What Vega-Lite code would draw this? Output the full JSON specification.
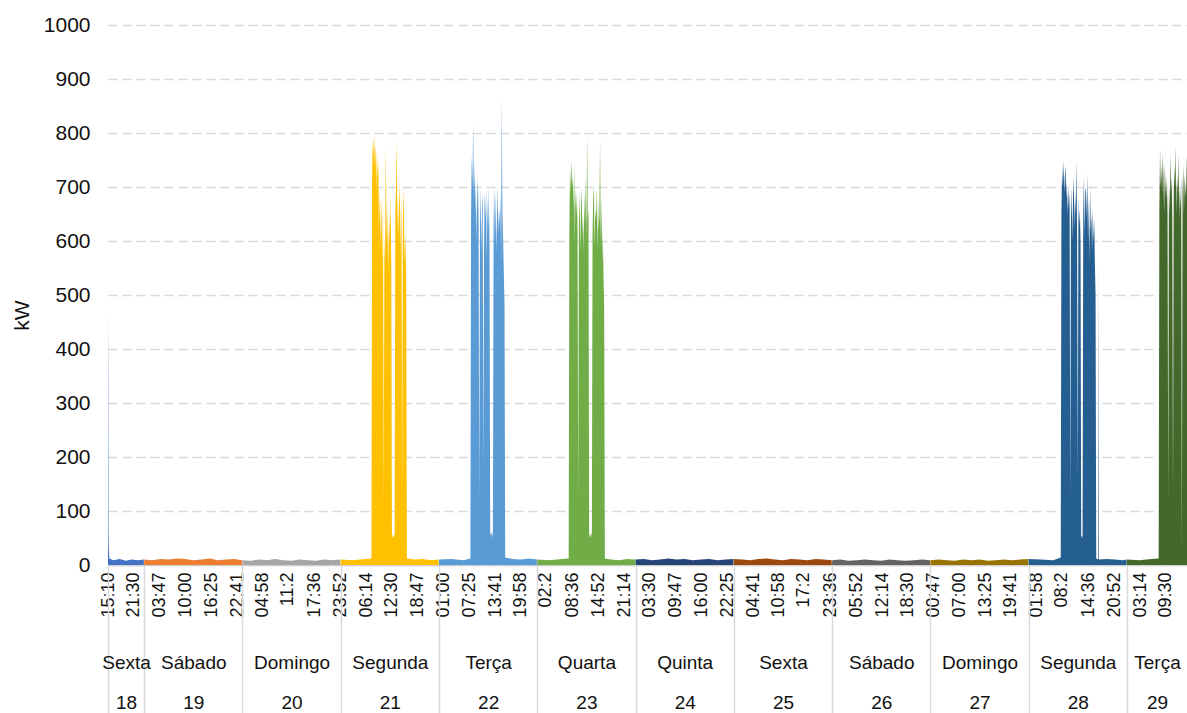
{
  "$schema": "https://vega.github.io/schema/vega-lite/v6.json",
  "width": 1079,
  "height": 540,
  "autosize": "none",
  "padding": {"left": 108, "top": 25, "right": 0, "bottom": 148},
  "background": "#ffffff",
  "config": {
    "view": {"stroke": null},
    "font": "Liberation Sans",
    "axis": {"labelFont": "Liberation Sans", "titleFont": "Liberation Sans", "labelColor": "#111111", "titleColor": "#111111", "titleFontWeight": "normal"}
  },
  "resolve": {"axis": {"x": "independent"}},
  "layer": [
    {
      "data": {"values": [
        {"t":"2019-01-18T15:10","kw":470},{"t":"2019-01-18T15:14","kw":340},{"t":"2019-01-18T15:18","kw":60},{"t":"2019-01-18T15:22","kw":30},{"t":"2019-01-18T15:30","kw":12},{"t":"2019-01-18T16:30","kw":9},{"t":"2019-01-18T18:00","kw":11},{"t":"2019-01-18T19:30","kw":8},{"t":"2019-01-18T21:00","kw":10},{"t":"2019-01-18T22:30","kw":9},{"t":"2019-01-18T23:55","kw":10},
        {"t":"2019-01-19T00:00","kw":10},{"t":"2019-01-19T02:00","kw":9},{"t":"2019-01-19T04:00","kw":11},{"t":"2019-01-19T06:00","kw":10},{"t":"2019-01-19T08:00","kw":12},{"t":"2019-01-19T10:00","kw":11},{"t":"2019-01-19T12:00","kw":9},{"t":"2019-01-19T14:00","kw":10},{"t":"2019-01-19T16:00","kw":12},{"t":"2019-01-19T18:00","kw":9},{"t":"2019-01-19T20:00","kw":10},{"t":"2019-01-19T22:00","kw":11},{"t":"2019-01-19T23:55","kw":9},
        {"t":"2019-01-20T00:00","kw":9},{"t":"2019-01-20T02:00","kw":8},{"t":"2019-01-20T04:00","kw":10},{"t":"2019-01-20T06:00","kw":9},{"t":"2019-01-20T08:00","kw":11},{"t":"2019-01-20T10:00","kw":9},{"t":"2019-01-20T12:00","kw":8},{"t":"2019-01-20T14:00","kw":10},{"t":"2019-01-20T16:00","kw":9},{"t":"2019-01-20T18:00","kw":8},{"t":"2019-01-20T20:00","kw":10},{"t":"2019-01-20T22:00","kw":9},{"t":"2019-01-20T23:55","kw":10},
        {"t":"2019-01-21T00:00","kw":10},{"t":"2019-01-21T03:00","kw":9},{"t":"2019-01-21T06:00","kw":11},{"t":"2019-01-21T07:30","kw":12},
        {"t":"2019-01-21T07:40","kw":720},{"t":"2019-01-21T07:50","kw":790},{"t":"2019-01-21T08:00","kw":760},{"t":"2019-01-21T08:10","kw":800},{"t":"2019-01-21T08:20","kw":740},{"t":"2019-01-21T08:30","kw":780},{"t":"2019-01-21T08:40","kw":690},{"t":"2019-01-21T08:50","kw":770},{"t":"2019-01-21T09:00","kw":720},{"t":"2019-01-21T09:10","kw":750},
        {"t":"2019-01-21T09:20","kw":620},{"t":"2019-01-21T09:30","kw":700},{"t":"2019-01-21T09:40","kw":580},{"t":"2019-01-21T09:50","kw":680},{"t":"2019-01-21T10:00","kw":640},{"t":"2019-01-21T10:10","kw":560},{"t":"2019-01-21T10:20","kw":690},{"t":"2019-01-21T10:30","kw":100},
        {"t":"2019-01-21T10:40","kw":610},{"t":"2019-01-21T10:50","kw":560},{"t":"2019-01-21T11:00","kw":780},{"t":"2019-01-21T11:10","kw":640},{"t":"2019-01-21T11:20","kw":590},{"t":"2019-01-21T11:30","kw":670},{"t":"2019-01-21T11:40","kw":540},{"t":"2019-01-21T11:50","kw":650},{"t":"2019-01-21T12:00","kw":600},{"t":"2019-01-21T12:10","kw":690},{"t":"2019-01-21T12:20","kw":570},
        {"t":"2019-01-21T12:30","kw":60},{"t":"2019-01-21T12:40","kw":50},{"t":"2019-01-21T12:50","kw":55},{"t":"2019-01-21T13:00","kw":50},{"t":"2019-01-21T13:10","kw":60},
        {"t":"2019-01-21T13:20","kw":650},{"t":"2019-01-21T13:30","kw":700},{"t":"2019-01-21T13:40","kw":790},{"t":"2019-01-21T13:50","kw":620},{"t":"2019-01-21T14:00","kw":690},{"t":"2019-01-21T14:10","kw":600},{"t":"2019-01-21T14:20","kw":710},{"t":"2019-01-21T14:30","kw":660},{"t":"2019-01-21T14:40","kw":580},{"t":"2019-01-21T14:50","kw":690},{"t":"2019-01-21T15:00","kw":120},{"t":"2019-01-21T15:10","kw":640},{"t":"2019-01-21T15:20","kw":700},{"t":"2019-01-21T15:30","kw":610},{"t":"2019-01-21T15:40","kw":560},{"t":"2019-01-21T15:50","kw":620},{"t":"2019-01-21T16:00","kw":500},
        {"t":"2019-01-21T16:10","kw":12},{"t":"2019-01-21T18:00","kw":10},{"t":"2019-01-21T20:00","kw":11},{"t":"2019-01-21T22:00","kw":9},{"t":"2019-01-21T23:55","kw":10},
        {"t":"2019-01-22T00:00","kw":10},{"t":"2019-01-22T03:00","kw":11},{"t":"2019-01-22T06:00","kw":9},{"t":"2019-01-22T07:40","kw":12},
        {"t":"2019-01-22T07:50","kw":650},{"t":"2019-01-22T08:00","kw":760},{"t":"2019-01-22T08:10","kw":700},{"t":"2019-01-22T08:20","kw":820},{"t":"2019-01-22T08:30","kw":690},{"t":"2019-01-22T08:40","kw":740},{"t":"2019-01-22T08:50","kw":650},{"t":"2019-01-22T09:00","kw":710},{"t":"2019-01-22T09:10","kw":600},{"t":"2019-01-22T09:20","kw":680},{"t":"2019-01-22T09:30","kw":720},{"t":"2019-01-22T09:40","kw":640},{"t":"2019-01-22T09:50","kw":120},
        {"t":"2019-01-22T10:00","kw":620},{"t":"2019-01-22T10:10","kw":700},{"t":"2019-01-22T10:20","kw":580},{"t":"2019-01-22T10:30","kw":660},{"t":"2019-01-22T10:40","kw":690},{"t":"2019-01-22T10:50","kw":170},
        {"t":"2019-01-22T11:00","kw":600},{"t":"2019-01-22T11:10","kw":690},{"t":"2019-01-22T11:20","kw":640},{"t":"2019-01-22T11:30","kw":700},{"t":"2019-01-22T11:40","kw":560},{"t":"2019-01-22T11:50","kw":680},{"t":"2019-01-22T12:00","kw":620},{"t":"2019-01-22T12:10","kw":700},{"t":"2019-01-22T12:20","kw":590},
        {"t":"2019-01-22T12:30","kw":60},{"t":"2019-01-22T12:40","kw":55},{"t":"2019-01-22T12:50","kw":60},{"t":"2019-01-22T13:00","kw":50},{"t":"2019-01-22T13:10","kw":65},
        {"t":"2019-01-22T13:20","kw":640},{"t":"2019-01-22T13:30","kw":700},{"t":"2019-01-22T13:40","kw":600},{"t":"2019-01-22T13:50","kw":690},{"t":"2019-01-22T14:00","kw":580},{"t":"2019-01-22T14:10","kw":650},{"t":"2019-01-22T14:20","kw":700},{"t":"2019-01-22T14:30","kw":610},{"t":"2019-01-22T14:40","kw":660},{"t":"2019-01-22T14:50","kw":630},{"t":"2019-01-22T15:00","kw":690},{"t":"2019-01-22T15:10","kw":560},{"t":"2019-01-22T15:20","kw":870},{"t":"2019-01-22T15:30","kw":650},{"t":"2019-01-22T15:40","kw":600},{"t":"2019-01-22T15:50","kw":540},{"t":"2019-01-22T16:00","kw":480},
        {"t":"2019-01-22T16:10","kw":14},{"t":"2019-01-22T18:00","kw":11},{"t":"2019-01-22T20:00","kw":10},{"t":"2019-01-22T22:00","kw":12},{"t":"2019-01-22T23:55","kw":10},
        {"t":"2019-01-23T00:00","kw":10},{"t":"2019-01-23T03:00","kw":9},{"t":"2019-01-23T06:00","kw":11},{"t":"2019-01-23T07:40","kw":12},
        {"t":"2019-01-23T07:50","kw":620},{"t":"2019-01-23T08:00","kw":740},{"t":"2019-01-23T08:10","kw":690},{"t":"2019-01-23T08:20","kw":750},{"t":"2019-01-23T08:30","kw":700},{"t":"2019-01-23T08:40","kw":720},{"t":"2019-01-23T08:50","kw":660},{"t":"2019-01-23T09:00","kw":740},{"t":"2019-01-23T09:10","kw":600},{"t":"2019-01-23T09:20","kw":700},{"t":"2019-01-23T09:30","kw":650},{"t":"2019-01-23T09:40","kw":690},{"t":"2019-01-23T09:50","kw":620},{"t":"2019-01-23T10:00","kw":120},
        {"t":"2019-01-23T10:10","kw":640},{"t":"2019-01-23T10:20","kw":690},{"t":"2019-01-23T10:30","kw":580},{"t":"2019-01-23T10:40","kw":660},{"t":"2019-01-23T10:50","kw":700},{"t":"2019-01-23T11:00","kw":610},{"t":"2019-01-23T11:10","kw":650},{"t":"2019-01-23T11:20","kw":580},{"t":"2019-01-23T11:30","kw":690},{"t":"2019-01-23T11:40","kw":630},{"t":"2019-01-23T11:50","kw":720},{"t":"2019-01-23T12:00","kw":600},{"t":"2019-01-23T12:10","kw":800},{"t":"2019-01-23T12:20","kw":640},{"t":"2019-01-23T12:30","kw":660},
        {"t":"2019-01-23T12:40","kw":60},{"t":"2019-01-23T12:50","kw":50},{"t":"2019-01-23T13:00","kw":55},{"t":"2019-01-23T13:10","kw":60},{"t":"2019-01-23T13:20","kw":50},
        {"t":"2019-01-23T13:30","kw":620},{"t":"2019-01-23T13:40","kw":680},{"t":"2019-01-23T13:50","kw":700},{"t":"2019-01-23T14:00","kw":590},{"t":"2019-01-23T14:10","kw":660},{"t":"2019-01-23T14:20","kw":640},{"t":"2019-01-23T14:30","kw":700},{"t":"2019-01-23T14:40","kw":580},{"t":"2019-01-23T14:50","kw":680},{"t":"2019-01-23T15:00","kw":620},{"t":"2019-01-23T15:10","kw":650},{"t":"2019-01-23T15:20","kw":790},{"t":"2019-01-23T15:30","kw":600},{"t":"2019-01-23T15:40","kw":680},{"t":"2019-01-23T15:50","kw":560},{"t":"2019-01-23T16:00","kw":620},{"t":"2019-01-23T16:10","kw":540},{"t":"2019-01-23T16:20","kw":480},
        {"t":"2019-01-23T16:30","kw":12},{"t":"2019-01-23T18:00","kw":10},{"t":"2019-01-23T20:00","kw":9},{"t":"2019-01-23T22:00","kw":11},{"t":"2019-01-23T23:55","kw":10},
        {"t":"2019-01-24T00:00","kw":10},{"t":"2019-01-24T02:00","kw":11},{"t":"2019-01-24T04:00","kw":9},{"t":"2019-01-24T06:00","kw":10},{"t":"2019-01-24T08:00","kw":12},{"t":"2019-01-24T10:00","kw":10},{"t":"2019-01-24T12:00","kw":11},{"t":"2019-01-24T14:00","kw":9},{"t":"2019-01-24T16:00","kw":10},{"t":"2019-01-24T18:00","kw":11},{"t":"2019-01-24T20:00","kw":9},{"t":"2019-01-24T22:00","kw":10},{"t":"2019-01-24T23:55","kw":11},
        {"t":"2019-01-25T00:00","kw":11},{"t":"2019-01-25T02:00","kw":10},{"t":"2019-01-25T04:00","kw":9},{"t":"2019-01-25T06:00","kw":11},{"t":"2019-01-25T08:00","kw":12},{"t":"2019-01-25T10:00","kw":10},{"t":"2019-01-25T12:00","kw":9},{"t":"2019-01-25T14:00","kw":11},{"t":"2019-01-25T16:00","kw":10},{"t":"2019-01-25T18:00","kw":9},{"t":"2019-01-25T20:00","kw":11},{"t":"2019-01-25T22:00","kw":10},{"t":"2019-01-25T23:55","kw":9},
        {"t":"2019-01-26T00:00","kw":9},{"t":"2019-01-26T02:00","kw":10},{"t":"2019-01-26T04:00","kw":8},{"t":"2019-01-26T06:00","kw":9},{"t":"2019-01-26T08:00","kw":10},{"t":"2019-01-26T10:00","kw":9},{"t":"2019-01-26T12:00","kw":8},{"t":"2019-01-26T14:00","kw":10},{"t":"2019-01-26T16:00","kw":9},{"t":"2019-01-26T18:00","kw":8},{"t":"2019-01-26T20:00","kw":9},{"t":"2019-01-26T22:00","kw":10},{"t":"2019-01-26T23:55","kw":9},
        {"t":"2019-01-27T00:00","kw":9},{"t":"2019-01-27T02:00","kw":10},{"t":"2019-01-27T04:00","kw":9},{"t":"2019-01-27T06:00","kw":8},{"t":"2019-01-27T08:00","kw":10},{"t":"2019-01-27T10:00","kw":9},{"t":"2019-01-27T12:00","kw":10},{"t":"2019-01-27T14:00","kw":8},{"t":"2019-01-27T16:00","kw":9},{"t":"2019-01-27T18:00","kw":10},{"t":"2019-01-27T20:00","kw":9},{"t":"2019-01-27T22:00","kw":10},{"t":"2019-01-27T23:55","kw":11},
        {"t":"2019-01-28T00:00","kw":11},{"t":"2019-01-28T03:00","kw":10},{"t":"2019-01-28T06:00","kw":9},{"t":"2019-01-28T07:50","kw":14},
        {"t":"2019-01-28T08:00","kw":650},{"t":"2019-01-28T08:10","kw":740},{"t":"2019-01-28T08:20","kw":700},{"t":"2019-01-28T08:30","kw":750},{"t":"2019-01-28T08:40","kw":690},{"t":"2019-01-28T08:50","kw":720},{"t":"2019-01-28T09:00","kw":740},{"t":"2019-01-28T09:10","kw":680},{"t":"2019-01-28T09:20","kw":710},{"t":"2019-01-28T09:30","kw":650},{"t":"2019-01-28T09:40","kw":700},{"t":"2019-01-28T09:50","kw":660},{"t":"2019-01-28T10:00","kw":690},{"t":"2019-01-28T10:10","kw":120},
        {"t":"2019-01-28T10:20","kw":640},{"t":"2019-01-28T10:30","kw":700},{"t":"2019-01-28T10:40","kw":600},{"t":"2019-01-28T10:50","kw":680},{"t":"2019-01-28T11:00","kw":720},{"t":"2019-01-28T11:10","kw":620},{"t":"2019-01-28T11:20","kw":690},{"t":"2019-01-28T11:30","kw":650},{"t":"2019-01-28T11:40","kw":750},{"t":"2019-01-28T11:50","kw":600},{"t":"2019-01-28T12:00","kw":160},{"t":"2019-01-28T12:10","kw":680},{"t":"2019-01-28T12:20","kw":630},{"t":"2019-01-28T12:30","kw":660},{"t":"2019-01-28T12:40","kw":600},
        {"t":"2019-01-28T12:50","kw":50},{"t":"2019-01-28T13:00","kw":55},{"t":"2019-01-28T13:10","kw":50},
        {"t":"2019-01-28T13:20","kw":650},{"t":"2019-01-28T13:30","kw":720},{"t":"2019-01-28T13:40","kw":610},{"t":"2019-01-28T13:50","kw":690},{"t":"2019-01-28T14:00","kw":700},{"t":"2019-01-28T14:10","kw":640},{"t":"2019-01-28T14:20","kw":725},{"t":"2019-01-28T14:30","kw":600},{"t":"2019-01-28T14:40","kw":680},{"t":"2019-01-28T14:50","kw":560},{"t":"2019-01-28T15:00","kw":700},{"t":"2019-01-28T15:10","kw":620},{"t":"2019-01-28T15:20","kw":650},{"t":"2019-01-28T15:30","kw":580},{"t":"2019-01-28T15:40","kw":660},{"t":"2019-01-28T15:50","kw":600},{"t":"2019-01-28T16:00","kw":640},{"t":"2019-01-28T16:10","kw":560},{"t":"2019-01-28T16:20","kw":500},
        {"t":"2019-01-28T16:30","kw":12},{"t":"2019-01-28T17:00","kw":10},{"t":"2019-01-28T17:05","kw":570},{"t":"2019-01-28T17:10","kw":10},{"t":"2019-01-28T19:00","kw":11},{"t":"2019-01-28T21:00","kw":10},{"t":"2019-01-28T23:00","kw":9},{"t":"2019-01-28T23:55","kw":10},
        {"t":"2019-01-29T00:00","kw":10},{"t":"2019-01-29T03:00","kw":9},{"t":"2019-01-29T06:00","kw":11},{"t":"2019-01-29T07:45","kw":12},
        {"t":"2019-01-29T07:55","kw":660},{"t":"2019-01-29T08:05","kw":770},{"t":"2019-01-29T08:15","kw":700},{"t":"2019-01-29T08:25","kw":740},{"t":"2019-01-29T08:35","kw":690},{"t":"2019-01-29T08:45","kw":760},{"t":"2019-01-29T08:55","kw":720},{"t":"2019-01-29T09:05","kw":650},{"t":"2019-01-29T09:15","kw":740},{"t":"2019-01-29T09:25","kw":700},{"t":"2019-01-29T09:35","kw":680},{"t":"2019-01-29T09:45","kw":720},{"t":"2019-01-29T09:55","kw":650},{"t":"2019-01-29T10:05","kw":120},
        {"t":"2019-01-29T10:15","kw":700},{"t":"2019-01-29T10:25","kw":650},{"t":"2019-01-29T10:35","kw":760},{"t":"2019-01-29T10:45","kw":690},{"t":"2019-01-29T10:55","kw":720},{"t":"2019-01-29T11:05","kw":640},{"t":"2019-01-29T11:15","kw":126},
        {"t":"2019-01-29T11:25","kw":680},{"t":"2019-01-29T11:35","kw":740},{"t":"2019-01-29T11:45","kw":700},{"t":"2019-01-29T11:55","kw":778},{"t":"2019-01-29T12:05","kw":650},{"t":"2019-01-29T12:15","kw":720},{"t":"2019-01-29T12:25","kw":690},{"t":"2019-01-29T12:35","kw":760},{"t":"2019-01-29T12:45","kw":640},{"t":"2019-01-29T12:55","kw":700},{"t":"2019-01-29T13:05","kw":660},{"t":"2019-01-29T13:15","kw":720},{"t":"2019-01-29T13:25","kw":20},
        {"t":"2019-01-29T13:35","kw":690},{"t":"2019-01-29T13:45","kw":740},{"t":"2019-01-29T13:55","kw":650},{"t":"2019-01-29T14:05","kw":720},{"t":"2019-01-29T14:15","kw":700},{"t":"2019-01-29T14:25","kw":680},{"t":"2019-01-29T14:35","kw":760},{"t":"2019-01-29T14:40","kw":700}
      ]},
      "mark": {"type": "area", "clip": true, "interpolate": "linear"},
      "encoding": {
        "x": {
          "field": "t", "type": "temporal",
          "scale": {"domain": [{"year":2019,"month":1,"date":18,"hours":15,"minutes":10},{"year":2019,"month":1,"date":29,"hours":14,"minutes":40}]},
          "axis": {
            "orient": "bottom", "title": null, "grid": false, "ticks": false,
            "domain": true, "domainColor": "#d0d0d0", "domainWidth": 1.5,
            "labelAngle": 270, "labelFontSize": 18, "labelPadding": 7,
            "labelOverlap": false, "labelFlush": false,
            "labelExpr": "minutes(datum.value) == 2 ? timeFormat(datum.value, '%H:%-M') : timeFormat(datum.value, '%H:%M')",
            "values": [
              {"year":2019,"month":1,"date":18,"hours":15,"minutes":10},{"year":2019,"month":1,"date":18,"hours":21,"minutes":30},
              {"year":2019,"month":1,"date":19,"hours":3,"minutes":47},{"year":2019,"month":1,"date":19,"hours":10,"minutes":0},{"year":2019,"month":1,"date":19,"hours":16,"minutes":25},{"year":2019,"month":1,"date":19,"hours":22,"minutes":41},
              {"year":2019,"month":1,"date":20,"hours":4,"minutes":58},{"year":2019,"month":1,"date":20,"hours":11,"minutes":2},{"year":2019,"month":1,"date":20,"hours":17,"minutes":36},{"year":2019,"month":1,"date":20,"hours":23,"minutes":52},
              {"year":2019,"month":1,"date":21,"hours":6,"minutes":14},{"year":2019,"month":1,"date":21,"hours":12,"minutes":30},{"year":2019,"month":1,"date":21,"hours":18,"minutes":47},
              {"year":2019,"month":1,"date":22,"hours":1,"minutes":0},{"year":2019,"month":1,"date":22,"hours":7,"minutes":25},{"year":2019,"month":1,"date":22,"hours":13,"minutes":41},{"year":2019,"month":1,"date":22,"hours":19,"minutes":58},
              {"year":2019,"month":1,"date":23,"hours":2,"minutes":2},{"year":2019,"month":1,"date":23,"hours":8,"minutes":36},{"year":2019,"month":1,"date":23,"hours":14,"minutes":52},{"year":2019,"month":1,"date":23,"hours":21,"minutes":14},
              {"year":2019,"month":1,"date":24,"hours":3,"minutes":30},{"year":2019,"month":1,"date":24,"hours":9,"minutes":47},{"year":2019,"month":1,"date":24,"hours":16,"minutes":0},{"year":2019,"month":1,"date":24,"hours":22,"minutes":25},
              {"year":2019,"month":1,"date":25,"hours":4,"minutes":41},{"year":2019,"month":1,"date":25,"hours":10,"minutes":58},{"year":2019,"month":1,"date":25,"hours":17,"minutes":2},{"year":2019,"month":1,"date":25,"hours":23,"minutes":36},
              {"year":2019,"month":1,"date":26,"hours":5,"minutes":52},{"year":2019,"month":1,"date":26,"hours":12,"minutes":14},{"year":2019,"month":1,"date":26,"hours":18,"minutes":30},
              {"year":2019,"month":1,"date":27,"hours":0,"minutes":47},{"year":2019,"month":1,"date":27,"hours":7,"minutes":0},{"year":2019,"month":1,"date":27,"hours":13,"minutes":25},{"year":2019,"month":1,"date":27,"hours":19,"minutes":41},
              {"year":2019,"month":1,"date":28,"hours":1,"minutes":58},{"year":2019,"month":1,"date":28,"hours":8,"minutes":2},{"year":2019,"month":1,"date":28,"hours":14,"minutes":36},{"year":2019,"month":1,"date":28,"hours":20,"minutes":52},
              {"year":2019,"month":1,"date":29,"hours":3,"minutes":14},{"year":2019,"month":1,"date":29,"hours":9,"minutes":30}
            ]
          }
        },
        "y": {
          "field": "kw", "type": "quantitative", "stack": null,
          "scale": {"domain": [0, 1000], "nice": false},
          "axis": {
            "values": [0,100,200,300,400,500,600,700,800,900,1000], "format": "d",
            "grid": true, "gridDash": [9, 5], "gridColor": "#d9d9d9", "gridWidth": 1.5,
            "domain": false, "ticks": false, "labelPadding": 18, "labelFontSize": 21,
            "title": "kW", "titleFontSize": 21, "titleAngle": 270, "titleX": -86, "titleY": 290,
            "titleAlign": "center", "titleBaseline": "middle"
          }
        },
        "color": {
          "field": "t", "timeUnit": "date", "type": "ordinal", "legend": null,
          "scale": {"range": ["#4472C4","#ED7D31","#A5A5A5","#FFC000","#5B9BD5","#70AD47","#264478","#9E480E","#636363","#997300","#255E91","#43682B"]}
        }
      }
    },
    {
      "data": {"values": [{"t": "2019-01-18T15:10"}]},
      "mark": {"type": "rule", "opacity": 0},
      "encoding": {
        "x": {
          "field": "t", "type": "temporal",
          "scale": {"domain": [{"year":2019,"month":1,"date":18,"hours":15,"minutes":10},{"year":2019,"month":1,"date":29,"hours":14,"minutes":40}]},
          "axis": {
            "orient": "bottom", "title": null, "grid": false, "labels": false, "domain": false,
            "ticks": true, "tickSize": 148, "tickColor": "#d9d9d9", "tickWidth": 1.5,
            "values": [
              {"year":2019,"month":1,"date":18,"hours":15,"minutes":10},
              {"year":2019,"month":1,"date":19},{"year":2019,"month":1,"date":20},{"year":2019,"month":1,"date":21},{"year":2019,"month":1,"date":22},{"year":2019,"month":1,"date":23},{"year":2019,"month":1,"date":24},{"year":2019,"month":1,"date":25},{"year":2019,"month":1,"date":26},{"year":2019,"month":1,"date":27},{"year":2019,"month":1,"date":28},{"year":2019,"month":1,"date":29}
            ]
          }
        }
      }
    },
    {
      "data": {"values": [{"t": "2019-01-18T15:10"}]},
      "mark": {"type": "rule", "opacity": 0},
      "encoding": {
        "x": {
          "field": "t", "type": "temporal",
          "scale": {"domain": [{"year":2019,"month":1,"date":18,"hours":15,"minutes":10},{"year":2019,"month":1,"date":29,"hours":14,"minutes":40}]},
          "axis": {
            "orient": "bottom", "title": null, "grid": false, "ticks": false, "domain": false,
            "labelFontSize": 19, "labelPadding": 97, "labelBaseline": "middle", "labelAlign": "center",
            "labelOverlap": false, "labelFlush": false,
            "labelExpr": "['Domingo','Segunda','Terça','Quarta','Quinta','Sexta','Sábado'][day(datum.value)]",
            "values": [
              {"year":2019,"month":1,"date":18,"hours":19,"minutes":35},
              {"year":2019,"month":1,"date":19,"hours":12},{"year":2019,"month":1,"date":20,"hours":12},{"year":2019,"month":1,"date":21,"hours":12},{"year":2019,"month":1,"date":22,"hours":12},{"year":2019,"month":1,"date":23,"hours":12},{"year":2019,"month":1,"date":24,"hours":12},{"year":2019,"month":1,"date":25,"hours":12},{"year":2019,"month":1,"date":26,"hours":12},{"year":2019,"month":1,"date":27,"hours":12},{"year":2019,"month":1,"date":28,"hours":12},
              {"year":2019,"month":1,"date":29,"hours":7,"minutes":20}
            ]
          }
        }
      }
    },
    {
      "data": {"values": [{"t": "2019-01-18T15:10"}]},
      "mark": {"type": "rule", "opacity": 0},
      "encoding": {
        "x": {
          "field": "t", "type": "temporal",
          "scale": {"domain": [{"year":2019,"month":1,"date":18,"hours":15,"minutes":10},{"year":2019,"month":1,"date":29,"hours":14,"minutes":40}]},
          "axis": {
            "orient": "bottom", "title": null, "grid": false, "ticks": false, "domain": false,
            "labelFontSize": 19, "labelPadding": 137, "labelBaseline": "middle", "labelAlign": "center",
            "labelOverlap": false, "labelFlush": false, "format": "%d",
            "values": [
              {"year":2019,"month":1,"date":18,"hours":19,"minutes":35},
              {"year":2019,"month":1,"date":19,"hours":12},{"year":2019,"month":1,"date":20,"hours":12},{"year":2019,"month":1,"date":21,"hours":12},{"year":2019,"month":1,"date":22,"hours":12},{"year":2019,"month":1,"date":23,"hours":12},{"year":2019,"month":1,"date":24,"hours":12},{"year":2019,"month":1,"date":25,"hours":12},{"year":2019,"month":1,"date":26,"hours":12},{"year":2019,"month":1,"date":27,"hours":12},{"year":2019,"month":1,"date":28,"hours":12},
              {"year":2019,"month":1,"date":29,"hours":7,"minutes":20}
            ]
          }
        }
      }
    }
  ]
}
